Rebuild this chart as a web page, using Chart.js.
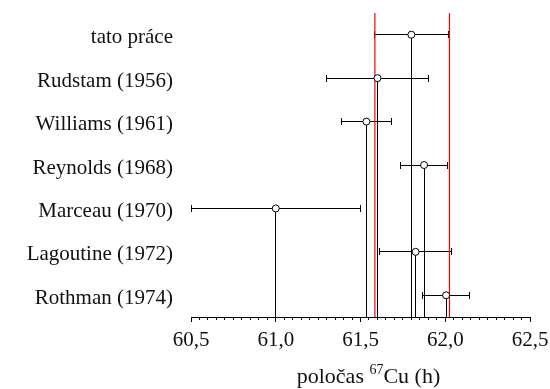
<!DOCTYPE html>
<html>
<head>
<meta charset="utf-8">
<script src="https://cdn.jsdelivr.net/npm/chart.js@4/dist/chart.umd.min.js"></script>
<style>
html,body{margin:0;padding:0;background:#fff;}
#wrap{width:550px;height:389px;position:relative;}
</style>
</head>
<body>
<div id="wrap"><canvas id="c" width="550" height="389"></canvas></div>
<script>
const categories = ['tato práce','Rudstam (1956)','Williams (1961)','Reynolds (1968)','Marceau (1970)','Lagoutine (1972)','Rothman (1974)'];
const values = [61.80, 61.60, 61.535, 61.875, 61.00, 61.825, 62.005];
const errors = [0.22, 0.30, 0.15, 0.14, 0.50, 0.21, 0.14];
const referenceLines = [61.585, 62.025];
const majorTicks = [60.5, 61.0, 61.5, 62.0, 62.5];
const tickLabels = ['60,5','61,0','61,5','62,0','62,5'];
const minorStep = 0.05;

const FONT = "'Liberation Serif', 'Times New Roman', serif";
const crisp = p => Math.round(p - 0.5) + 0.5;

const drawPlugin = {
  id: 'errorBars',
  beforeDatasetsDraw(chart) {
    const {ctx, chartArea, scales} = chart;
    const xs = scales.x, ys = scales.y;
    ctx.save();
    ctx.lineWidth = 1;
    ctx.strokeStyle = '#000';
    values.forEach((v, i) => {
      const y = crisp(ys.getPixelForValue(i));
      const xc = crisp(xs.getPixelForValue(v));
      const xl = crisp(xs.getPixelForValue(v - errors[i]));
      const xr = crisp(xs.getPixelForValue(v + errors[i]));
      ctx.beginPath();
      ctx.moveTo(xl, y); ctx.lineTo(xr, y);
      ctx.moveTo(xl, y - 3.5); ctx.lineTo(xl, y + 3.5);
      ctx.moveTo(xr, y - 3.5); ctx.lineTo(xr, y + 3.5);
      ctx.moveTo(xc, y); ctx.lineTo(xc, chartArea.bottom);
      ctx.stroke();
    });
    ctx.restore();
  },
  afterDraw(chart) {
    const {ctx, chartArea, scales} = chart;
    const xs = scales.x;
    ctx.save();
    ctx.strokeStyle = '#000';
    ctx.lineWidth = 1;
    const n = Math.round((xs.max - xs.min) / minorStep);
    ctx.beginPath();
    for (let k = 0; k <= n; k++) {
      const v = xs.min + k * minorStep;
      const x = crisp(xs.getPixelForValue(v));
      ctx.moveTo(x, chartArea.bottom); ctx.lineTo(x, chartArea.bottom + 3);
    }
    ctx.stroke();
    // axis title
    ctx.fillStyle = '#111';
    ctx.textBaseline = 'alphabetic';
    const big = '22px ' + FONT, small = '14px ' + FONT;
    const p1 = 'poločas ', p2 = '67', p3 = 'Cu (h)';
    ctx.font = big; const w1 = ctx.measureText(p1).width, w3 = ctx.measureText(p3).width;
    ctx.font = small; const w2 = ctx.measureText(p2).width;
    const total = w1 + w2 + w3;
    const cx = (chartArea.left + chartArea.right) / 2 + 8;
    let x = cx - total / 2;
    const base = 383;
    ctx.font = big; ctx.fillText(p1, x, base); x += w1;
    ctx.font = small; ctx.fillText(p2, x, base - 9); x += w2;
    ctx.font = big; ctx.fillText(p3, x, base);
    ctx.restore();
  }
};

const redSets = referenceLines.map(v => ({
  type: 'line',
  data: [{x: v, y: -0.5}, {x: v, y: 6.5}],
  borderColor: '#ff0000',
  borderWidth: 1.2,
  pointRadius: 0,
  showLine: true,
  fill: false,
  order: 2
}));

new Chart(document.getElementById('c'), {
  type: 'scatter',
  data: {
    datasets: [{
      data: values.map((v, i) => ({x: v, y: i})),
      pointRadius: 3.5,
      pointHoverRadius: 3.5,
      pointBackgroundColor: '#fff',
      pointBorderColor: '#000',
      pointBorderWidth: 1,
      order: 1
    }, ...redSets]
  },
  options: {
    responsive: false,
    animation: false,
    events: [],
    layout: {padding: {top: 13, right: 20, left: 0, bottom: 0}},
    plugins: {legend: {display: false}, tooltip: {enabled: false}},
    scales: {
      x: {
        type: 'linear',
        min: 60.5, max: 62.5,
        afterBuildTicks: s => { s.ticks = majorTicks.map(v => ({value: v})); },
        afterFit: s => { s.height = 72; s.paddingLeft = 0; s.paddingRight = 0; },
        grid: {display: true, drawOnChartArea: false, drawTicks: true, tickLength: 5, tickColor: '#000'},
        border: {display: true, color: '#000', width: 1},
        ticks: {
          autoSkip: false, maxRotation: 0, minRotation: 0, padding: 6,
          color: '#111', font: {family: FONT, size: 21},
          callback: (v) => { const i = majorTicks.findIndex(m => Math.abs(m - v) < 1e-6); return i >= 0 ? tickLabels[i] : ''; }
        }
      },
      y: {
        type: 'linear',
        min: -0.5, max: 6.5, reverse: true,
        afterBuildTicks: s => { s.ticks = categories.map((_, i) => ({value: i})); },
        afterFit: s => { s.width = 191; s.paddingTop = 0; s.paddingBottom = 0; },
        grid: {display: false, drawTicks: false},
        border: {display: false},
        ticks: {
          autoSkip: false, padding: 18, labelOffset: 3,
          color: '#111', font: {family: FONT, size: 21},
          callback: (v) => categories[Math.round(v)]
        }
      }
    }
  },
  plugins: [drawPlugin]
});
</script>
</body>
</html>
